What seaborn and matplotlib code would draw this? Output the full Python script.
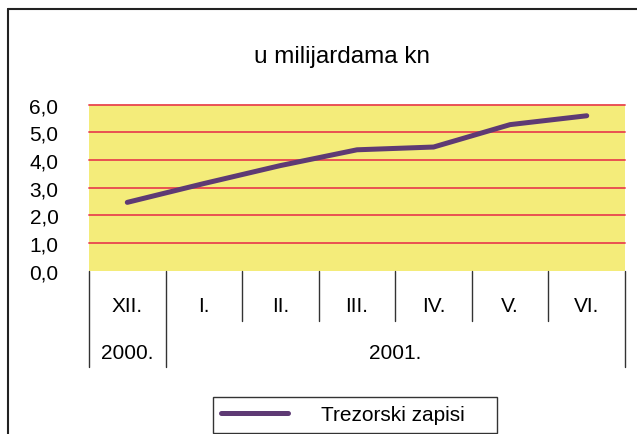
import matplotlib
matplotlib.use("Agg")
import matplotlib.pyplot as plt
from matplotlib.lines import Line2D
import seaborn as sns
import pandas as pd

months = ["XII.", "I.", "II.", "III.", "IV.", "V.", "VI."]
years = ["2000.", "2001."]
values = [2.47, 3.15, 3.8, 4.37, 4.47, 5.28, 5.6]
series_name = "Trezorski zapisi"
title = "u milijardama kn"
yticks = [0, 1, 2, 3, 4, 5, 6]

sns.set_theme(style="white")
plt.rcParams["font.family"] = ["Liberation Sans", "DejaVu Sans"]
plt.rcParams["text.color"] = "black"
plt.rcParams["xtick.color"] = "black"
plt.rcParams["ytick.color"] = "black"

W, H = 637, 435
FS = 15
fig = plt.figure(figsize=(W / 100, H / 100), dpi=100)
ax = fig.add_axes([89 / W, (H - 271.7) / H, 536 / W, 166 / H])
ax.set_facecolor("#F4EC7A")

df = pd.DataFrame({"month": months, "value": values, "series": series_name})
sns.lineplot(data=df, x="month", y="value", hue="series", palette=["#5E3A74"],
             linewidth=3.6, ax=ax, sort=False)

ax.set_xlim(-0.5, len(months) - 0.5)
ax.set_ylim(0, 6)
ax.set_yticks(yticks)
ax.set_yticklabels([f"{v:.1f}".replace(".", ",") for v in yticks], fontsize=FS)
ax.tick_params(axis="y", length=0, pad=22)
ax.set_xticks(range(len(months)))
ax.set_xticklabels(months, fontsize=FS)
ax.tick_params(axis="x", length=0, pad=18)
ax.set_xlabel("")
ax.set_ylabel("")
for s in ax.spines.values():
    s.set_visible(False)
for v in yticks[1:]:
    ax.axhline(v, color="#E8454E", linewidth=1.3, zorder=1, clip_on=False)

trans = ax.get_xaxis_transform()
bounds = [i - 0.5 for i in range(len(months) + 1)]
for b in bounds:
    low = -0.58 if b in (-0.5, 0.5, len(months) - 0.5) else -0.305
    ax.plot([b, b], [0, low], transform=trans, color="#333333", linewidth=1.0,
            clip_on=False)
ax.text(0, -0.495, years[0], transform=trans, ha="center", va="center", fontsize=FS)
ax.text(3.5, -0.495, years[1], transform=trans, ha="center", va="center", fontsize=FS)

fig.text(342 / W, 1 - 57 / H, title, ha="center", va="center", fontsize=17.5)

# outer frame (left and top)
fig.add_artist(Line2D([7.5 / W, 7.5 / W], [0, 1 - 10 / H], transform=fig.transFigure,
                      color="#222222", linewidth=1.5))
fig.add_artist(Line2D([7.5 / W, 1], [1 - 10 / H, 1 - 10 / H], transform=fig.transFigure,
                      color="#222222", linewidth=1.5))

leg = ax.legend(loc="lower left", bbox_to_anchor=(213 / W, 1.5 / H, 284 / W, 40 / H),
                bbox_transform=fig.transFigure, mode="expand", fontsize=FS,
                frameon=True, fancybox=False, edgecolor="black", handlelength=3.2,
                handletextpad=1.6, borderpad=0.4, borderaxespad=0)
leg.get_frame().set_linewidth(1.0)
leg.get_frame().set_facecolor("white")

fig.savefig("out.png", dpi=100, facecolor="white")
